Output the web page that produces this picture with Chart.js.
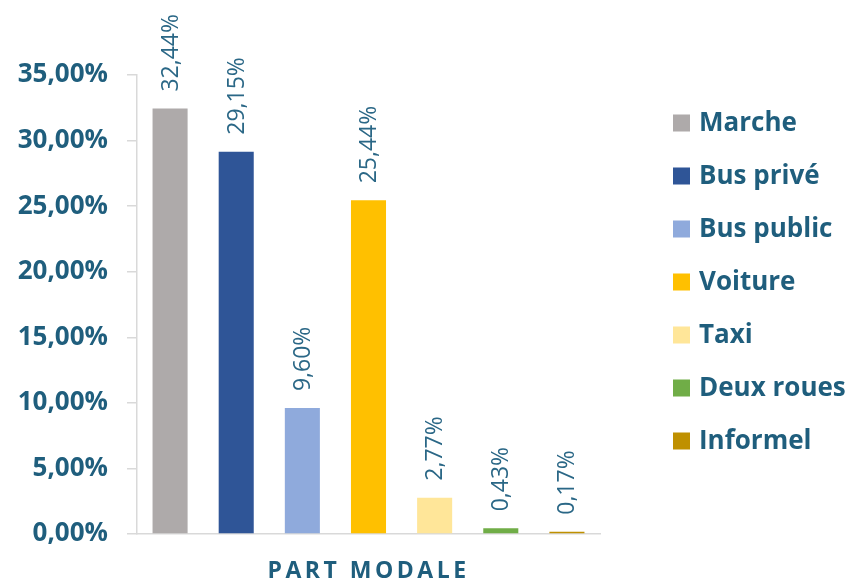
<!DOCTYPE html>
<html>
<head>
<meta charset="utf-8">
<script src="https://cdn.jsdelivr.net/npm/chart.js@4/dist/chart.umd.min.js"></script>
<style>
html,body{margin:0;padding:0;background:#fff;}
#wrap{width:848px;height:581px;}
</style>
</head>
<body>
<div id="wrap"><canvas id="c" width="848" height="581"></canvas></div>
<script>
const categories = ['PART MODALE'];
const seriesNames = ['Marche', 'Bus privé', 'Bus public', 'Voiture', 'Taxi', 'Deux roues', 'Informel'];
const seriesValues = [32.44, 29.15, 9.60, 25.44, 2.77, 0.43, 0.17];
const seriesColors = ['#AEAAAA', '#2F5597', '#8FAADC', '#FFC000', '#FFE699', '#70AD47', '#BF9000'];
const yTickLabels = ['0,00%', '5,00%', '10,00%', '15,00%', '20,00%', '25,00%', '30,00%', '35,00%'];

const TEXT_DARK = '#1F5E7D';
const TEXT_LABEL = '#2A6786';
const FONT = '"Open Sans", "DejaVu Sans", sans-serif';

const fmt = v => v.toFixed(2).replace('.', ',') + '%';

const datasets = seriesNames.map((n, i) => ({
  label: n,
  data: [seriesValues[i]],
  backgroundColor: seriesColors[i],
  borderWidth: 0,
  categoryPercentage: 1.0,
  barPercentage: 0.53
}));

const labelsPlugin = {
  id: 'valueLabels',
  afterDatasetsDraw(chart) {
    const ctx = chart.ctx;
    ctx.save();
    ctx.font = '400 23px ' + FONT;
    ctx.fillStyle = TEXT_LABEL;
    ctx.textAlign = 'left';
    ctx.textBaseline = 'middle';
    chart.data.datasets.forEach((ds, i) => {
      const meta = chart.getDatasetMeta(i);
      meta.data.forEach((el, j) => {
        ctx.save();
        ctx.translate(el.x + 1, el.y - 17);
        ctx.rotate(-Math.PI / 2);
        ctx.fillText(fmt(ds.data[j]), 0, 0);
        ctx.restore();
      });
    });
    ctx.restore();
  }
};

const extrasPlugin = {
  id: 'extras',
  afterDraw(chart) {
    const ctx = chart.ctx;
    const xs = chart.scales.x;
    ctx.save();
    // category label
    ctx.font = '700 23px ' + FONT;
    ctx.fillStyle = TEXT_DARK;
    ctx.textAlign = 'center';
    ctx.textBaseline = 'alphabetic';
    try { ctx.letterSpacing = '3.5px'; } catch (e) {}
    categories.forEach((c, i) => {
      ctx.fillText(c, xs.getPixelForValue(i), 578);
    });
    try { ctx.letterSpacing = '0px'; } catch (e) {}
    // legend
    ctx.font = '700 26px ' + FONT;
    ctx.textAlign = 'left';
    ctx.textBaseline = 'middle';
    chart.data.datasets.forEach((ds, i) => {
      const cy = 123 + i * 53;
      ctx.fillStyle = ds.backgroundColor;
      ctx.fillRect(673, cy - 8.5, 17, 17);
      ctx.fillStyle = TEXT_DARK;
      ctx.fillText(ds.label, 699, cy + 1);
    });
    ctx.restore();
  }
};

new Chart(document.getElementById('c'), {
  type: 'bar',
  data: { labels: categories, datasets },
  options: {
    responsive: false,
    animation: false,
    devicePixelRatio: 1,
    layout: { padding: { top: 75, right: 248, bottom: 39, left: 0 } },
    plugins: { legend: { display: false }, tooltip: { enabled: false } },
    scales: {
      x: {
        ticks: { display: false },
        grid: { display: false },
        border: { display: true, color: '#D9D9D9', width: 1.5 }
      },
      y: {
        min: 0,
        max: 35,
        ticks: {
          stepSize: 5,
          padding: 19,
          color: TEXT_DARK,
          font: { family: FONT, size: 26, weight: '700' },
          callback: (v, idx) => yTickLabels[idx]
        },
        grid: { drawOnChartArea: false, drawTicks: true, tickLength: 10, color: '#D9D9D9', lineWidth: 1.5 },
        border: { display: true, color: '#D9D9D9', width: 1.5 },
        afterFit: s => { s.width = 137; }
      }
    }
  },
  plugins: [labelsPlugin, extrasPlugin]
});
</script>
</body>
</html>
